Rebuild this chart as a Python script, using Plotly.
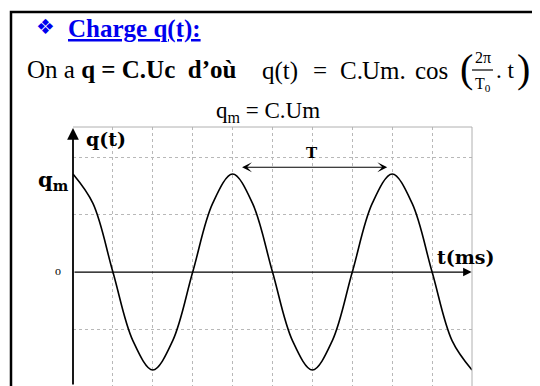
import plotly.graph_objects as go

# The page body has an 8px margin, so the figure is sized to fill the rest
OFF = 8
W, H = 540 - OFF, 386 - OFF

# data (t in grid divisions, q in units of q_m)
t_vals = [0, 0.5, 1, 1.5, 2, 2.5, 3, 3.5, 4, 4.5, 5, 5.5, 6, 6.5, 7, 7.5, 8, 8.5, 9, 9.5, 10]
q_vals = [1, 0.7, 0, -0.7, -1, -0.7, 0, 0.7, 1, 0.7, 0, -0.7, -1, -0.7, 0, 0.7, 1, 0.7, 0, -0.7, -1]
x_grid = [1, 2, 3, 4, 5, 6, 7, 8, 9]
y_grid = [-0.585, 0.585, 1.17]

SERIF = "Liberation Serif, Times New Roman, serif"
WIDE = "DejaVu Serif, serif"


def px(x):
    return (x - OFF) / W


def py(y):
    return 1 - (y - OFF) / H


X0, X1 = 73, 472
Y0, Y1 = 127, 386
x_range = [0, 10]
y_range = [-1.163, 1.48]

fig = go.Figure()
fig.add_trace(go.Scatter(
    x=t_vals, y=q_vals, mode="lines",
    line=dict(color="black", width=1.6, shape="spline", smoothing=1.0),
    hoverinfo="skip", showlegend=False,
))

fig.update_layout(
    width=W, height=H,
    margin=dict(l=0, r=0, t=0, b=0),
    paper_bgcolor="white", plot_bgcolor="white",
    showlegend=False,
    xaxis=dict(domain=[px(X0), px(X1)], range=x_range, tickvals=x_grid,
               showticklabels=False, ticks="", showgrid=True, griddash="dot",
               gridcolor="#b8b8b8", gridwidth=1, zeroline=False, showline=False,
               fixedrange=True),
    yaxis=dict(domain=[0, py(Y0)], range=y_range, tickvals=y_grid,
               showticklabels=False, ticks="", showgrid=True, griddash="dot",
               gridcolor="#b8b8b8", gridwidth=1, zeroline=False, showline=False,
               fixedrange=True),
)

shapes = []
# outer black frame
shapes.append(dict(type="rect", xref="paper", yref="paper",
                   x0=px(11), x1=px(560), y0=py(400), y1=py(12),
                   line=dict(color="black", width=2.5)))
# light gray plot box (top and right)
shapes.append(dict(type="line", xref="paper", yref="paper",
                   x0=px(X0), x1=px(X1), y0=py(Y0), y1=py(Y0),
                   line=dict(color="#b0b0b0", width=1)))
shapes.append(dict(type="line", xref="paper", yref="paper",
                   x0=px(X1), x1=px(X1), y0=py(Y0), y1=0,
                   line=dict(color="#b0b0b0", width=1)))
# fraction bar
shapes.append(dict(type="line", xref="paper", yref="paper",
                   x0=px(472), x1=px(493), y0=py(70), y1=py(70),
                   line=dict(color="black", width=1.2)))
fig.update_layout(shapes=shapes)

ann = []


def text(x, y, s, size, xanchor="left", color="black", family=SERIF):
    ann.append(dict(x=px(x), y=py(y), xref="paper", yref="paper", text=s,
                    showarrow=False, xanchor=xanchor, yanchor="middle",
                    font=dict(family=family, size=size, color=color)))


# header text
text(34, 27, "❖", 21, color="#0000ee", family="DejaVu Sans")
text(66, 29, "<b><u>Charge q(t):</u></b>", 25, color="#0000ee")
text(25, 70, "On a <b>q = C.Uc  d’où</b>", 25)
text(280, 71, "q(t)", 25, xanchor="center")
text(320, 71, "=", 25, xanchor="center")
text(351, 71, "C.", 25, xanchor="center")
text(384, 71, "Um.", 25, xanchor="center")
text(431, 71, "cos", 25, xanchor="center")
text(466, 68, "(", 40, xanchor="center")
text(483, 57, "2π", 16, xanchor="center")
text(483, 84, "T<sub>0</sub>", 16, xanchor="center")
text(505, 71, ". t", 23, xanchor="center")
text(523, 68, ")", 40, xanchor="center")
text(268, 112, "q<sub>m</sub> = C.Um", 23, xanchor="center")

# chart labels
text(106, 139, "<b>q(t)</b>", 19, xanchor="center", family=WIDE)
text(71, 180, "<b>q<sub>m</sub></b>", 21, xanchor="right", family=WIDE)
text(58, 271, "o", 12, xanchor="center")
text(466, 257, "<b>t(ms)</b>", 19, xanchor="center", family=WIDE)
text(312, 153, "<b>T</b>", 15, xanchor="center", family=WIDE)

# axes with arrowheads
ann.append(dict(x=0, y=1.47, xref="x", yref="y", ax=0, ay=y_range[0],
                axref="x", ayref="y", text="", showarrow=True,
                arrowhead=2, arrowsize=1.3, arrowwidth=1.8, arrowcolor="black"))
ann.append(dict(x=9.99, y=0, xref="x", yref="y", ax=0, ay=0,
                axref="x", ayref="y", text="", showarrow=True,
                arrowhead=2, arrowsize=1.3, arrowwidth=1.3, arrowcolor="black"))
# period arrow T
ann.append(dict(x=7.875, y=1.07, xref="x", yref="y", ax=4.2, ay=1.07,
                axref="x", ayref="y", text="", showarrow=True,
                arrowhead=3, startarrowhead=3, arrowside="end+start",
                arrowsize=1.5, startarrowsize=1.5, arrowwidth=1.1,
                arrowcolor="black"))
fig.update_layout(annotations=ann)

fig.write_html("out.html")
